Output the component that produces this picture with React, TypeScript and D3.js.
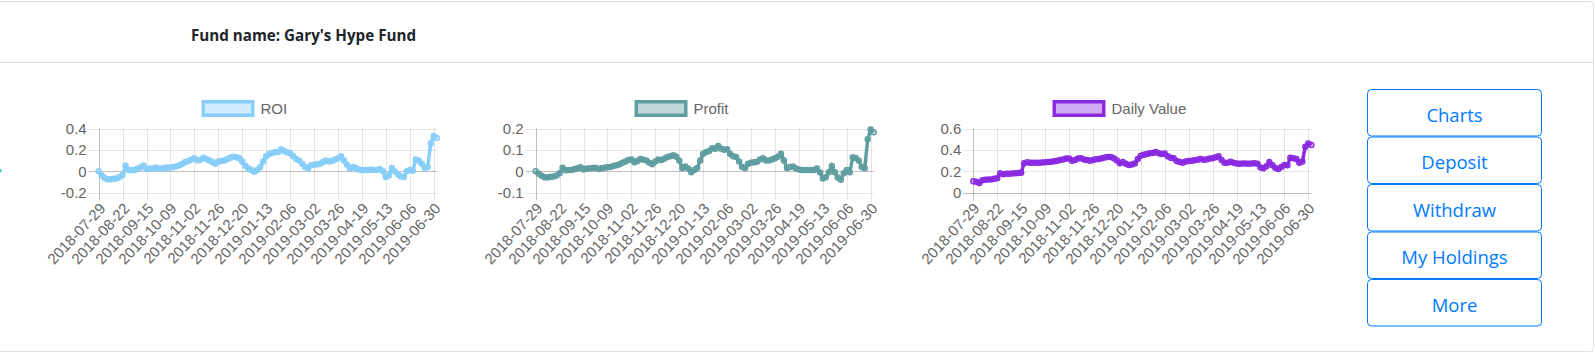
import React from 'react'
import * as d3 from 'd3'

const START = '2018-07-29'
const END = '2019-07-03'
const STEP_DAYS = 3

const X_LABELS = [
  '2018-07-29', '2018-08-22', '2018-09-15', '2018-10-09', '2018-11-02',
  '2018-11-26', '2018-12-20', '2019-01-13', '2019-02-06', '2019-03-02',
  '2019-03-26', '2019-04-19', '2019-05-13', '2019-06-06', '2019-06-30',
]

// one value every 3 days, starting 2018-07-29
const ROI = [
  0, -0.04, -0.065, -0.075, -0.075, -0.07, -0.068, -0.055, -0.035, 0.05,
  0.01, 0.01, 0.01, 0.025, 0.035, 0.05, 0.02, 0.025, 0.025, 0.035,
  0.025, 0.025, 0.03, 0.035, 0.035, 0.04, 0.045, 0.055, 0.07, 0.085,
  0.095, 0.11, 0.12, 0.1, 0.105, 0.125, 0.115, 0.1, 0.085, 0.07,
  0.09, 0.095, 0.1, 0.115, 0.125, 0.135, 0.13, 0.12, 0.09, 0.05,
  0.025, 0.01, -0.005, 0.01, 0.04, 0.09, 0.14, 0.16, 0.17, 0.18,
  0.18, 0.205, 0.19, 0.175, 0.17, 0.14, 0.115, 0.1, 0.07, 0.04,
  0.025, 0.055, 0.06, 0.065, 0.07, 0.085, 0.1, 0.09, 0.095, 0.11,
  0.12, 0.14, 0.1, 0.06, 0.025, 0.04, 0.03, 0.015, 0.01, 0.01,
  0.01, 0.015, 0.01, 0.01, 0.02, 0, -0.055, -0.04, 0.03, 0,
  -0.03, -0.05, -0.055, 0, 0.01, 0.005, 0.11, 0.1, 0.07, 0.03,
  0.04, 0.26, 0.33, 0.31,
]

const PROFIT = [
  0, -0.012, -0.022, -0.028, -0.03, -0.026, -0.025, -0.02, -0.01, 0.016,
  0.004, 0.005, 0.006, 0.01, 0.014, 0.018, 0.008, 0.012, 0.012, 0.015,
  0.016, 0.01, 0.014, 0.016, 0.018, 0.02, 0.024, 0.028, 0.033, 0.04,
  0.045, 0.052, 0.055, 0.042, 0.048, 0.057, 0.053, 0.05, 0.04, 0.033,
  0.045, 0.055, 0.052, 0.058, 0.066, 0.07, 0.075, 0.068, 0.05, 0.015,
  0.022, 0.012, -0.005, 0.005, 0.015, 0.05, 0.082, 0.09, 0.095, 0.108,
  0.105, 0.118, 0.105, 0.1, 0.103, 0.08, 0.07, 0.066, 0.045, 0.02,
  0.015, 0.035, 0.04, 0.042, 0.044, 0.055, 0.06, 0.05, 0.05, 0.055,
  0.06, 0.068, 0.082, 0.05, 0.015, 0.02, 0.022, 0.012, 0.008, 0.006,
  0.005, 0.006, 0.005, 0.006, 0.012, -0.005, -0.034, -0.028, -0.005, 0.024,
  -0.005, -0.03, -0.04, -0.01, 0.005, -0.005, 0.065, 0.062, 0.05, 0.02,
  0.014, 0.15, 0.195, 0.182,
]

const DAILY_VALUE = [
  0.105, 0.1, 0.088, 0.115, 0.12, 0.122, 0.123, 0.128, 0.133, 0.18,
  0.172, 0.175, 0.175, 0.178, 0.18, 0.182, 0.185, 0.275, 0.283, 0.278,
  0.28, 0.278, 0.28, 0.282, 0.283, 0.285, 0.288, 0.292, 0.298, 0.305,
  0.31, 0.318, 0.318, 0.298, 0.305, 0.318, 0.32, 0.31, 0.305, 0.298,
  0.305, 0.312, 0.315, 0.322, 0.328, 0.333, 0.332, 0.322, 0.3, 0.275,
  0.285, 0.27, 0.258, 0.262, 0.272, 0.315, 0.345, 0.355, 0.362, 0.368,
  0.37, 0.38, 0.368, 0.36, 0.365, 0.34, 0.325, 0.32, 0.295, 0.285,
  0.278, 0.29, 0.295, 0.298, 0.302, 0.308, 0.315, 0.308, 0.31, 0.318,
  0.322, 0.33, 0.34, 0.305, 0.28, 0.278, 0.288, 0.278, 0.272, 0.27,
  0.272, 0.272, 0.27, 0.272, 0.275, 0.27, 0.235, 0.228, 0.245, 0.285,
  0.255, 0.23, 0.22, 0.24, 0.258, 0.255, 0.325, 0.322, 0.315, 0.28,
  0.29, 0.43, 0.46, 0.445,
]

const ROI_TICKS = [-0.2, 0, 0.2, 0.4]
const PROFIT_TICKS = [-0.1, 0, 0.1, 0.2]
const DAILY_TICKS = [0, 0.2, 0.4, 0.6]

const BUTTONS = ['Charts', 'Deposit', 'Withdraw', 'My Holdings', 'More']

const W = 1595
const H = 359
const PLOT_TOP = 128.5
const PLOT_BOTTOM = 192.5
const PLOT_W = 338
const CHART_FONT = '"Liberation Sans", Arial, Helvetica, sans-serif'
const UI_FONT = '"Open Sans", "Noto Sans", sans-serif'

const parse = d3.utcParse('%Y-%m-%d')

interface ChartProps {
  left: number
  legendX: number
  label: string
  color: string
  fill: string
  values: number[]
  ticks: number[]
}

function MiniChart({ left, legendX, label, color, fill, values, ticks }: ChartProps) {
  const start = parse(START)!
  const x = d3.scaleUtc().domain([start, parse(END)!]).range([left, left + PLOT_W])
  const y = d3.scaleLinear().domain(d3.extent(ticks) as [number, number]).range([PLOT_BOTTOM, PLOT_TOP])
  const pts = values.map((v, i) => ({ date: d3.utcDay.offset(start, i * STEP_DAYS), v }))
  const line = d3.line<{ date: Date; v: number }>().x(d => x(d.date)).y(d => y(d.v))
  const labelDates = X_LABELS.map(s => parse(s)!)

  return (
    <g>
      {/* legend */}
      <rect x={legendX + 1.75} y={101.75} width={49.5} height={13.5}
        fill={fill} stroke={color} strokeWidth={3.5} />
      <text x={legendX + 59} y={113.5} fontFamily={CHART_FONT} fontSize={15} fill="#666">{label}</text>

      {/* horizontal grid */}
      {ticks.map(t => (
        <g key={t}>
          <line x1={left - 10} x2={left + PLOT_W} y1={Math.round(y(t)) + 0.5} y2={Math.round(y(t)) + 0.5}
            stroke={t === 0 ? 'rgba(0,0,0,0.25)' : 'rgba(0,0,0,0.1)'} />
          <text x={left - 12} y={y(t)} dy="0.36em" textAnchor="end"
            fontFamily={CHART_FONT} fontSize={15} fill="#666">{String(t)}</text>
        </g>
      ))}

      {/* vertical grid + rotated labels */}
      {labelDates.map((d, i) => {
        const px = Math.round(x(d)) + 0.5
        return (
          <g key={X_LABELS[i]}>
            <line x1={px} x2={px} y1={PLOT_TOP} y2={PLOT_BOTTOM + 8}
              stroke={i === 0 ? 'rgba(0,0,0,0.25)' : 'rgba(0,0,0,0.1)'} />
            <text transform={`translate(${px + 3},${PLOT_BOTTOM + 13}) rotate(-47)`}
              textAnchor="end" dy="0.36em" fontFamily={CHART_FONT} fontSize={15} fill="#666">
              {X_LABELS[i]}
            </text>
          </g>
        )
      })}

      {/* series */}
      <path d={line(pts) ?? ''} fill="none" stroke={color} strokeWidth={3.5} />
      {pts.map((p, i) => (
        <circle key={i} cx={x(p.date)} cy={y(p.v)} r={2.6} fill={fill} stroke={color} strokeWidth={1.3} />
      ))}
    </g>
  )
}

export default function App() {
  return (
    <div style={{ position: 'absolute', left: 0, top: 0, width: W, height: H, background: '#fff' }}>
      <svg width={W} height={H} style={{ display: 'block' }}>
        {/* card */}
        <rect x={-10} y={1.5} width={1603.5} height={350} rx={4} fill="#fff" stroke="#dfdfdf" />
        <line x1={0} x2={1593.5} y1={62.5} y2={62.5} stroke="#dfdfdf" />
        <text x={303.5} y={41} textAnchor="middle" fontFamily={UI_FONT} fontWeight={700}
          fontSize={15.2} fill="#212529">Fund name: Gary's Hype Fund</text>
        <rect x={0} y={169} width={1.6} height={3.5} fill="#4cc9c9" />

        <MiniChart left={98.7} legendX={201.5} label="ROI" color="#87CEFA"
          fill="rgba(135,206,250,0.4)" values={ROI} ticks={ROI_TICKS} />
        <MiniChart left={535.7} legendX={634.5} label="Profit" color="#5F9EA0"
          fill="rgba(95,158,160,0.4)" values={PROFIT} ticks={PROFIT_TICKS} />
        <MiniChart left={973.3} legendX={1052.5} label="Daily Value" color="#8A2BE2"
          fill="rgba(138,43,226,0.4)" values={DAILY_VALUE} ticks={DAILY_TICKS} />

        {/* action buttons */}
        {BUTTONS.map((b, i) => {
          const top = 89.5 + i * 47.5
          return (
            <g key={b}>
              <rect x={1367.5} y={top} width={174} height={46.5} rx={4} fill="#fff" stroke="#007bff" />
              <text x={1454.5} y={top + 32} textAnchor="middle" fontFamily={UI_FONT}
                fontSize={18.5} fill="#007bff">{b}</text>
            </g>
          )
        })}
      </svg>
    </div>
  )
}
